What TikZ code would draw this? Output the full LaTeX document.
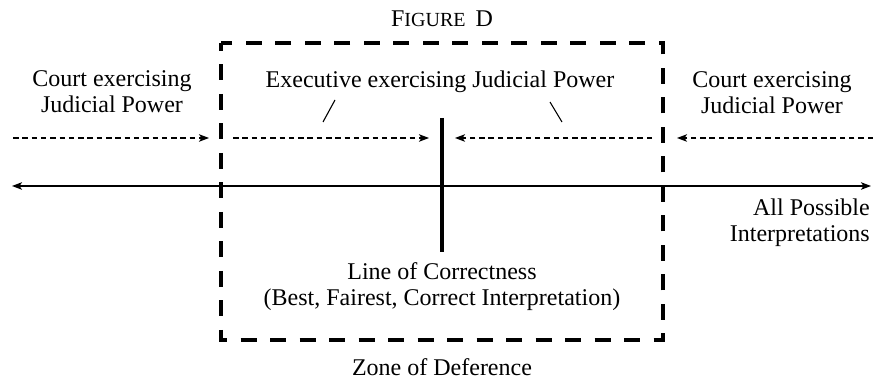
\documentclass[tikz,border=0pt]{standalone}
\usepackage{fontspec}
\setmainfont{Liberation Serif}
\usetikzlibrary{arrows.meta}
\begin{document}
\begin{tikzpicture}[x=1pt,y=-1pt,
  lbl/.style={font=\fontsize{24}{26}\selectfont, inner sep=0pt, align=center},
  dotarrow/.style={line width=1.2pt, dash pattern=on 5.5pt off 3.8pt,
    -{Stealth[length=10pt,width=7.5pt,inset=2.5pt]}},
  axisline/.style={line width=1.4pt,
    {Stealth[length=10pt,width=7.5pt,inset=2.5pt]}-{Stealth[length=10pt,width=7.5pt,inset=2.5pt]}},
  zonebox/.style={line width=4pt, dash pattern=on 16pt off 13.5pt, dash phase=8pt, line join=miter},
  correctline/.style={line width=4.5pt},
  slashline/.style={line width=1.1pt}]
\useasboundingbox (0,0) rectangle (873,379);

% zone of deference box
\coordinate (tl) at (221,43);
\coordinate (bl) at (221,340);
\coordinate (br) at (663,340);
\coordinate (tr) at (663,43);
\draw[zonebox] (tl) -- (bl) -- (br) -- (tr) -- cycle;

% title
\node[lbl, anchor=base] (title) at (442,27)
  {F{\fontsize{20}{20}\selectfont IGURE}\hspace{10pt}D};

% texts (base anchor = baseline of the last line)
\node[lbl, anchor=base] (courtL) at (112,113) {Court exercising\\Judicial Power};
\node[lbl, anchor=base] (courtR) at (772,114) {Court exercising\\Judicial Power};
\node[lbl, anchor=base] (exec) at (440,88) {Executive exercising Judicial Power};
\node[lbl, anchor=base east, align=right] (allposs) at (870,242) {All Possible\\Interpretations};
\node[lbl, anchor=base] (correct) at (442,306) {Line of Correctness\\(Best, Fairest, Correct Interpretation)};
\node[font=\fontsize{24}{26}\selectfont, inner sep=0pt, text depth=0pt, anchor=base] (zone) at (442,375) {Zone of Deference};

% slashes
\coordinate (s1a) at (335,100); \coordinate (s1b) at (323,122);
\coordinate (s2a) at (550,102); \coordinate (s2b) at (562,122);
\draw[slashline] (s1a) -- (s1b);
\draw[slashline] (s2a) -- (s2b);

% dotted arrows
\coordinate (oL0) at (13,138);  \coordinate (oL1) at (209,138);
\coordinate (iL0) at (233,138); \coordinate (iL1) at (429,138);
\coordinate (iR0) at (652,138); \coordinate (iR1) at (455,138);
\coordinate (oR0) at (873,138); \coordinate (oR1) at (677,138);
\draw[dotarrow] (oL0) -- (oL1);
\draw[dotarrow] (iL0) -- (iL1);
\draw[dotarrow] (iR0) -- (iR1);
\draw[dotarrow] (oR0) -- (oR1);

% axis
\coordinate (ax0) at (12,186);
\coordinate (ax1) at (871,186);
\draw[axisline] (ax0) -- (ax1);

% line of correctness
\coordinate (lc0) at (442,118);
\coordinate (lc1) at (442,252);
\draw[correctline] (lc0) -- (lc1);
\end{tikzpicture}
\end{document}
